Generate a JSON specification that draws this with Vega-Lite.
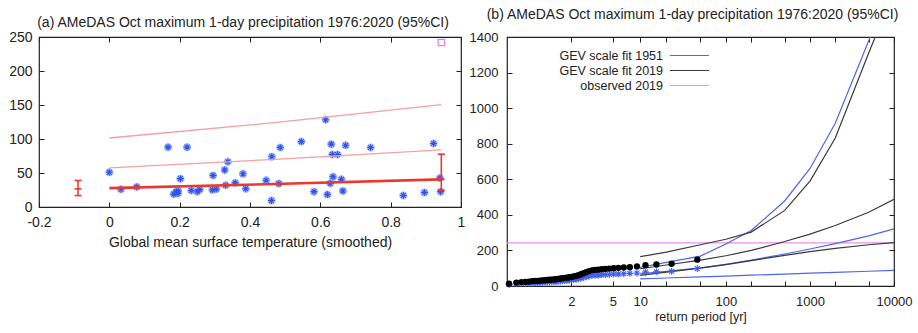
{
  "$schema": "https://vega.github.io/schema/vega-lite/v6.json",
  "background": "white",
  "padding": {"left": 8, "top": 6, "right": 0, "bottom": 0},
  "spacing": 2,
  "config": {
    "font": "Liberation Sans",
    "view": {"stroke": "#222", "strokeWidth": 1.2},
    "axis": {"grid": false, "domain": false, "tickColor": "#222", "tickSize": -5, "tickWidth": 1, "labelColor": "#222", "titleColor": "#222", "titleFontWeight": "normal", "minExtent": 0, "labelFlush": false},
    "title": {"fontWeight": "normal", "color": "#222", "fontSize": 14, "anchor": "middle", "frame": "group"}
  },
  "resolve": {"legend": {"color": "independent", "strokeWidth": "independent"}},
  "hconcat": [
    {
      "width": 422,
      "height": 170,
      "title": {"text": "(a) AMeDAS Oct maximum 1-day precipitation 1976:2020 (95%CI)", "offset": 0.5, "dx": -7},
      "resolve": {"axis": {"x": "independent", "y": "independent"}},
      "layer": [
        {
          "data": {"name": "pts", "values": [
            {"x": 0.000, "y": 51}, {"x": 0.033, "y": 26}, {"x": 0.078, "y": 29.5}, {"x": 0.167, "y": 88}, {"x": 0.221, "y": 88},
            {"x": 0.202, "y": 41.7}, {"x": 0.183, "y": 19}, {"x": 0.190, "y": 22.5}, {"x": 0.195, "y": 20}, {"x": 0.196, "y": 23.5},
            {"x": 0.233, "y": 24.3}, {"x": 0.250, "y": 22.5}, {"x": 0.257, "y": 25.5}, {"x": 0.293, "y": 25.3}, {"x": 0.304, "y": 26.3},
            {"x": 0.295, "y": 46.5}, {"x": 0.328, "y": 54.5}, {"x": 0.337, "y": 66.5}, {"x": 0.331, "y": 32}, {"x": 0.358, "y": 35.5},
            {"x": 0.380, "y": 48.8}, {"x": 0.388, "y": 26.8}, {"x": 0.446, "y": 39.3}, {"x": 0.462, "y": 74}, {"x": 0.461, "y": 9.5},
            {"x": 0.482, "y": 34.5}, {"x": 0.486, "y": 87.5}, {"x": 0.546, "y": 96.2}, {"x": 0.582, "y": 22.6}, {"x": 0.615, "y": 128.3},
            {"x": 0.620, "y": 18.3}, {"x": 0.628, "y": 34.8}, {"x": 0.631, "y": 92.4}, {"x": 0.636, "y": 44.4}, {"x": 0.634, "y": 77.2},
            {"x": 0.649, "y": 77.2}, {"x": 0.660, "y": 40.8}, {"x": 0.664, "y": 23.6}, {"x": 0.672, "y": 90.7}, {"x": 0.743, "y": 87.5},
            {"x": 0.836, "y": 17}, {"x": 0.896, "y": 21.3}, {"x": 0.922, "y": 93.4}, {"x": 0.940, "y": 42.5}, {"x": 0.942, "y": 22.6}
          ]},
          "mark": {"type": "point", "shape": "M-1,0L1,0M0,-1L0,1M-0.7,-0.7L0.7,0.7M-0.7,0.7L0.7,-0.7", "size": 64, "filled": false, "stroke": "#b3c0f8", "strokeWidth": 3, "opacity": 1},
          "encoding": {
            "x": {"field": "x", "type": "quantitative", "scale": {"domain": [-0.2, 1], "nice": false, "zero": false},
              "axis": {"orient": "bottom", "values": [-0.2, 0, 0.2, 0.4, 0.6, 0.8, 1], "labelExpr": "replace(format(datum.value, '~g'), '\u2212', '-')", "labelFontSize": 14, "labelPadding": 13, "title": "Global mean surface temperature (smoothed)", "titleFontSize": 14, "titlePadding": 6}},
            "y": {"field": "y", "type": "quantitative", "scale": {"domain": [0, 250], "nice": false, "zero": false},
              "axis": {"orient": "left", "values": [0, 50, 100, 150, 200, 250], "labelFontSize": 14, "labelPadding": 12, "title": null}}
          }
        },
        {
          "data": {"name": "pts"},
          "mark": {"type": "point", "shape": "M-1,0L1,0M0,-1L0,1M-0.7,-0.7L0.7,0.7M-0.7,0.7L0.7,-0.7", "size": 49, "filled": false, "stroke": "#2f52ee", "strokeWidth": 1.1, "opacity": 1},
          "encoding": {
            "x": {"field": "x", "type": "quantitative", "axis": {"orient": "top", "values": [-0.2, 0, 0.2, 0.4, 0.6, 0.8, 1], "labels": false, "title": null}},
            "y": {"field": "y", "type": "quantitative", "axis": {"orient": "right", "values": [0, 50, 100, 150, 200, 250], "labels": false, "title": null}}
          }
        },
        {
          "data": {"values": [{"x": 0, "y": 101.5}, {"x": 0.47, "y": 124}, {"x": 0.944, "y": 150.5}]},
          "mark": {"type": "line", "stroke": "#f4a09c", "strokeWidth": 1.3},
          "encoding": {"x": {"field": "x", "type": "quantitative", "axis": null}, "y": {"field": "y", "type": "quantitative", "axis": null}}
        },
        {
          "data": {"values": [{"x": 0, "y": 57.5}, {"x": 0.47, "y": 70}, {"x": 0.944, "y": 84}]},
          "mark": {"type": "line", "stroke": "#f4a09c", "strokeWidth": 1.3},
          "encoding": {"x": {"field": "x", "type": "quantitative", "axis": null}, "y": {"field": "y", "type": "quantitative", "axis": null}}
        },
        {
          "data": {"values": [{"x": 0, "y": 27.7}, {"x": 0.47, "y": 33.8}, {"x": 0.944, "y": 40.6}]},
          "mark": {"type": "line", "stroke": "#e83a30", "strokeWidth": 2.6},
          "encoding": {"x": {"field": "x", "type": "quantitative", "axis": null}, "y": {"field": "y", "type": "quantitative", "axis": null}}
        },
        {
          "data": {"name": "eb", "values": [{"x": -0.089, "lo": 16.8, "mid": 26.7, "hi": 39}, {"x": 0.944, "lo": 24.8, "mid": 40.6, "hi": 77.7}]},
          "mark": {"type": "rule", "stroke": "#e83a30", "strokeWidth": 1.6},
          "encoding": {"x": {"field": "x", "type": "quantitative", "axis": null}, "y": {"field": "lo", "type": "quantitative", "axis": null}, "y2": {"field": "hi"}}
        },
        {
          "data": {"name": "eb"},
          "mark": {"type": "tick", "orient": "horizontal", "color": "#e83a30", "size": 7, "thickness": 1.6, "opacity": 1},
          "encoding": {"x": {"field": "x", "type": "quantitative", "axis": null}, "y": {"field": "lo", "type": "quantitative", "axis": null}}
        },
        {
          "data": {"name": "eb"},
          "mark": {"type": "tick", "orient": "horizontal", "color": "#e83a30", "size": 7, "thickness": 1.6, "opacity": 1},
          "encoding": {"x": {"field": "x", "type": "quantitative", "axis": null}, "y": {"field": "hi", "type": "quantitative", "axis": null}}
        },
        {
          "data": {"name": "eb"},
          "mark": {"type": "tick", "orient": "horizontal", "color": "#e83a30", "size": 7, "thickness": 1.6, "opacity": 1},
          "encoding": {"x": {"field": "x", "type": "quantitative", "axis": null}, "y": {"field": "mid", "type": "quantitative", "axis": null}}
        },
        {
          "data": {"values": [{"x": 0.944, "y": 242}]},
          "mark": {"type": "square", "filled": false, "stroke": "#e77fe7", "strokeWidth": 1.2, "size": 40, "opacity": 1},
          "encoding": {"x": {"field": "x", "type": "quantitative", "axis": null}, "y": {"field": "y", "type": "quantitative", "axis": null}}
        }
      ]
    },
    {
      "width": 387,
      "height": 249,
      "title": {"text": "(b) AMeDAS Oct maximum 1-day precipitation 1976:2020 (95%CI)", "subtitle": " ", "subtitleFontSize": 7, "subtitlePadding": 2, "offset": 0.5, "dx": -8},
      "resolve": {"axis": {"x": "independent", "y": "independent"}},
      "layer": [
        {
          "data": {"values": [
            {"series": "observed 2019", "band": "obs", "g": -1.4, "v": 243}, {"series": "observed 2019", "band": "obs", "g": 9.2103, "v": 243},
            {"series": "GEV scale fit 1951", "band": "lower", "g": 2.2504, "v": 40}, {"series": "GEV scale fit 1951", "band": "lower", "g": 2.9702, "v": 45},
            {"series": "GEV scale fit 1951", "band": "lower", "g": 3.9019, "v": 51}, {"series": "GEV scale fit 1951", "band": "lower", "g": 4.6001, "v": 56},
            {"series": "GEV scale fit 1951", "band": "lower", "g": 5.2958, "v": 61}, {"series": "GEV scale fit 1951", "band": "lower", "g": 6.2136, "v": 67},
            {"series": "GEV scale fit 1951", "band": "lower", "g": 6.9073, "v": 72}, {"series": "GEV scale fit 1951", "band": "lower", "g": 7.6006, "v": 77},
            {"series": "GEV scale fit 1951", "band": "lower", "g": 8.5171, "v": 83}, {"series": "GEV scale fit 1951", "band": "lower", "g": 9.2103, "v": 88},
            {"series": "GEV scale fit 1951", "band": "central", "g": 2.2504, "v": 68}, {"series": "GEV scale fit 1951", "band": "central", "g": 2.9702, "v": 82},
            {"series": "GEV scale fit 1951", "band": "central", "g": 3.9019, "v": 102}, {"series": "GEV scale fit 1951", "band": "central", "g": 4.6001, "v": 122},
            {"series": "GEV scale fit 1951", "band": "central", "g": 5.2958, "v": 145}, {"series": "GEV scale fit 1951", "band": "central", "g": 6.2136, "v": 180},
            {"series": "GEV scale fit 1951", "band": "central", "g": 6.9073, "v": 208}, {"series": "GEV scale fit 1951", "band": "central", "g": 7.6006, "v": 238},
            {"series": "GEV scale fit 1951", "band": "central", "g": 8.5171, "v": 282}, {"series": "GEV scale fit 1951", "band": "central", "g": 9.2103, "v": 321},
            {"series": "GEV scale fit 1951", "band": "upper", "g": 2.2504, "v": 105}, {"series": "GEV scale fit 1951", "band": "upper", "g": 2.9702, "v": 133},
            {"series": "GEV scale fit 1951", "band": "upper", "g": 3.9019, "v": 168}, {"series": "GEV scale fit 1951", "band": "upper", "g": 4.6001, "v": 236},
            {"series": "GEV scale fit 1951", "band": "upper", "g": 5.2958, "v": 312}, {"series": "GEV scale fit 1951", "band": "upper", "g": 6.2136, "v": 478},
            {"series": "GEV scale fit 1951", "band": "upper", "g": 6.9073, "v": 661}, {"series": "GEV scale fit 1951", "band": "upper", "g": 7.6006, "v": 915},
            {"series": "GEV scale fit 1951", "band": "upper", "g": 8.5171, "v": 1379}, {"series": "GEV scale fit 1951", "band": "upper", "g": 9.2103, "v": 1740},
            {"series": "GEV scale fit 2019", "band": "lower", "g": 2.2504, "v": 60}, {"series": "GEV scale fit 2019", "band": "lower", "g": 2.9702, "v": 78},
            {"series": "GEV scale fit 2019", "band": "lower", "g": 3.9019, "v": 100}, {"series": "GEV scale fit 2019", "band": "lower", "g": 4.6001, "v": 120},
            {"series": "GEV scale fit 2019", "band": "lower", "g": 5.2958, "v": 143}, {"series": "GEV scale fit 2019", "band": "lower", "g": 6.2136, "v": 172},
            {"series": "GEV scale fit 2019", "band": "lower", "g": 6.9073, "v": 193}, {"series": "GEV scale fit 2019", "band": "lower", "g": 7.6006, "v": 212},
            {"series": "GEV scale fit 2019", "band": "lower", "g": 8.5171, "v": 232}, {"series": "GEV scale fit 2019", "band": "lower", "g": 9.2103, "v": 244},
            {"series": "GEV scale fit 2019", "band": "central", "g": 2.2504, "v": 97}, {"series": "GEV scale fit 2019", "band": "central", "g": 2.9702, "v": 118},
            {"series": "GEV scale fit 2019", "band": "central", "g": 3.9019, "v": 145}, {"series": "GEV scale fit 2019", "band": "central", "g": 4.6001, "v": 170},
            {"series": "GEV scale fit 2019", "band": "central", "g": 5.2958, "v": 200}, {"series": "GEV scale fit 2019", "band": "central", "g": 6.2136, "v": 250},
            {"series": "GEV scale fit 2019", "band": "central", "g": 6.9073, "v": 292}, {"series": "GEV scale fit 2019", "band": "central", "g": 7.6006, "v": 340},
            {"series": "GEV scale fit 2019", "band": "central", "g": 8.5171, "v": 415}, {"series": "GEV scale fit 2019", "band": "central", "g": 9.2103, "v": 487},
            {"series": "GEV scale fit 2019", "band": "upper", "g": 2.2504, "v": 165}, {"series": "GEV scale fit 2019", "band": "upper", "g": 2.9702, "v": 190},
            {"series": "GEV scale fit 2019", "band": "upper", "g": 3.9019, "v": 232}, {"series": "GEV scale fit 2019", "band": "upper", "g": 4.6001, "v": 263},
            {"series": "GEV scale fit 2019", "band": "upper", "g": 5.2958, "v": 303}, {"series": "GEV scale fit 2019", "band": "upper", "g": 6.2136, "v": 425},
            {"series": "GEV scale fit 2019", "band": "upper", "g": 6.9073, "v": 590}, {"series": "GEV scale fit 2019", "band": "upper", "g": 7.6006, "v": 832},
            {"series": "GEV scale fit 2019", "band": "upper", "g": 8.5171, "v": 1310}, {"series": "GEV scale fit 2019", "band": "upper", "g": 9.2103, "v": 1660}
          ]},
          "mark": {"type": "line", "clip": true},
          "encoding": {
            "x": {"field": "g", "type": "quantitative", "scale": {"domain": [-1.4, 9.2103], "nice": false, "zero": false},
              "axis": {"orient": "bottom", "values": [0.3665, 1.4999, 2.2504, 2.9702, 3.9019, 4.6001, 5.2958, 6.2136, 6.9073, 7.6006, 8.5171, 9.2103],
                "labelExpr": "indexof([2,5,10,100,1000,10000], round(1/(1-exp(-exp(-datum.value))))) >= 0 ? format(round(1/(1-exp(-exp(-datum.value)))), 'd') : ''",
                "labelFontSize": 13, "labelPadding": 14, "title": "return period [yr]", "titleFontSize": 12.5, "titlePadding": 2}},
            "y": {"field": "v", "type": "quantitative", "scale": {"domain": [0, 1400], "nice": false, "zero": false},
              "axis": {"orient": "left", "values": [0, 200, 400, 600, 800, 1000, 1200, 1400], "format": "d", "labelFontSize": 13, "labelPadding": 14, "title": null}},
            "color": {"field": "series", "type": "nominal",
              "scale": {"domain": ["GEV scale fit 1951", "GEV scale fit 2019", "observed 2019"], "range": ["#4b66f0", "#3a3a3a", "#f08cf0"]},
              "legend": {"orient": "none", "legendX": 175, "legendY": 11, "title": null, "symbolType": "M-3,0L3,0", "symbolSize": 169, "symbolStrokeWidth": 1.3, "labelFontSize": 12.5, "labelAlign": "right", "labelOffset": -34, "labelColor": "#222", "rowPadding": 1, "padding": 0, "labelLimit": 300}},
            "strokeWidth": {"field": "series", "type": "nominal", "scale": {"domain": ["GEV scale fit 1951", "GEV scale fit 2019", "observed 2019"], "range": [1.2, 1.2, 2]}, "legend": null},
            "detail": {"field": "band"}
          }
        },
        {
          "data": {"name": "dots", "values": [
            {"g": 3.8177, "black": 148, "blue": 98}, {"g": 3.1133, "black": 125, "blue": 83}, {"g": 2.6965, "black": 121, "blue": 80},
            {"g": 2.3972, "black": 117, "blue": 78}, {"g": 2.1622, "black": 110, "blue": 73}, {"g": 1.9678, "black": 106, "blue": 71},
            {"g": 1.8013, "black": 104, "blue": 69}, {"g": 1.6552, "black": 102, "blue": 68}, {"g": 1.5245, "black": 100, "blue": 67},
            {"g": 1.4060, "black": 98, "blue": 65}, {"g": 1.2972, "black": 96, "blue": 64}, {"g": 1.1964, "black": 94, "blue": 63},
            {"g": 1.1022, "black": 92, "blue": 61}, {"g": 1.0136, "black": 90, "blue": 60}, {"g": 0.9298, "black": 88, "blue": 59},
            {"g": 0.8499, "black": 84, "blue": 56}, {"g": 0.7736, "black": 78, "blue": 52}, {"g": 0.7003, "black": 72, "blue": 48},
            {"g": 0.6296, "black": 66, "blue": 44}, {"g": 0.5612, "black": 61, "blue": 41}, {"g": 0.4947, "black": 57, "blue": 38},
            {"g": 0.4299, "black": 54, "blue": 36}, {"g": 0.3665, "black": 51, "blue": 34}, {"g": 0.3044, "black": 49, "blue": 33},
            {"g": 0.2432, "black": 47, "blue": 31}, {"g": 0.1828, "black": 46, "blue": 31}, {"g": 0.1231, "black": 44, "blue": 29},
            {"g": 0.0638, "black": 42, "blue": 28}, {"g": 0.0046, "black": 40, "blue": 27}, {"g": -0.0545, "black": 38, "blue": 25},
            {"g": -0.1139, "black": 37, "blue": 25}, {"g": -0.1736, "black": 36, "blue": 24}, {"g": -0.2341, "black": 35, "blue": 23},
            {"g": -0.2955, "black": 34, "blue": 23}, {"g": -0.3582, "black": 32.5, "blue": 22}, {"g": -0.4227, "black": 31.5, "blue": 21},
            {"g": -0.4895, "black": 30, "blue": 20}, {"g": -0.5592, "black": 29, "blue": 19}, {"g": -0.6328, "black": 28, "blue": 19},
            {"g": -0.7114, "black": 27, "blue": 18}, {"g": -0.7971, "black": 25, "blue": 17}, {"g": -0.8930, "black": 23.5, "blue": 16},
            {"g": -1.0043, "black": 22, "blue": 15}, {"g": -1.1429, "black": 19, "blue": 13}, {"g": -1.3425, "black": 13, "blue": 9}
          ]},
          "mark": {"type": "point", "shape": "M-1,0L1,0M0,-1L0,1M-0.7,-0.7L0.7,0.7M-0.7,0.7L0.7,-0.7", "size": 49, "filled": false, "stroke": "#3f5ef2", "strokeWidth": 1.1, "opacity": 1},
          "encoding": {
            "x": {"field": "g", "type": "quantitative", "axis": null},
            "y": {"field": "blue", "type": "quantitative", "axis": null}
          }
        },
        {
          "data": {"name": "dots"},
          "mark": {"type": "circle", "color": "#000", "size": 40, "opacity": 1},
          "encoding": {
            "x": {"field": "g", "type": "quantitative", "axis": {"orient": "top", "values": [0.3665, 1.4999, 2.2504, 2.9702, 3.9019, 4.6001, 5.2958, 6.2136, 6.9073, 7.6006, 8.5171, 9.2103], "labels": false, "title": null}},
            "y": {"field": "black", "type": "quantitative", "axis": {"orient": "right", "values": [0, 200, 400, 600, 800, 1000, 1200, 1400], "labels": false, "title": null}}
          }
        }
      ]
    }
  ]
}
